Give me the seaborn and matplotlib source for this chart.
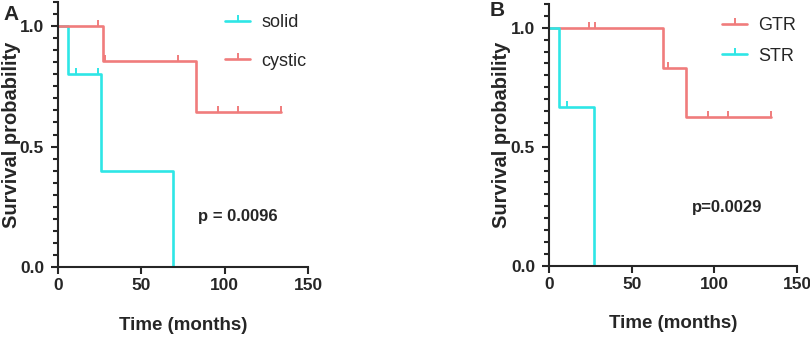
import numpy as np
import pandas as pd
import matplotlib
matplotlib.use("Agg")
import matplotlib.pyplot as plt
from matplotlib.lines import Line2D
from matplotlib.ticker import MultipleLocator
import seaborn as sns

# ---- data (Kaplan-Meier steps and censor marks) ----
# Panel A
solid_step_t = [0, 6, 26, 69]
solid_step_s = [1.0, 0.8, 0.4, 0.0]
solid_cens_t = [11, 24]
solid_cens_s = [0.8, 0.8]

cystic_step_t = [0, 27, 83, 134]
cystic_step_s = [1.0, 0.857, 0.643, 0.643]
cystic_cens_t = [24, 28, 72, 96, 108, 134]
cystic_cens_s = [1.0, 0.857, 0.857, 0.643, 0.643, 0.643]

# Panel B
gtr_step_t = [0, 69, 83, 134]
gtr_step_s = [1.0, 0.833, 0.625, 0.625]
gtr_cens_t = [24, 28, 72, 96, 108, 134]
gtr_cens_s = [1.0, 1.0, 0.833, 0.625, 0.625, 0.625]

str_step_t = [0, 6, 27]
str_step_s = [1.0, 0.667, 0.0]
str_cens_t = [11]
str_cens_s = [0.667]

x_ticks = [0, 50, 100, 150]
y_ticks = [0.0, 0.5, 1.0]

CYAN = "#2EE6E6"
SALMON = "#F07C7C"
TICK = [(0, 0), (0, 1)]  # censor mark drawn upward from the curve

sns.set_style("ticks")
plt.rcParams["font.family"] = ["Liberation Sans", "DejaVu Sans"]
plt.rcParams["axes.linewidth"] = 1.5


def draw_curve(ax, t, s, ct, cs, color):
    steps = pd.DataFrame({"t": t, "s": s})
    cens = pd.DataFrame({"t": ct, "s": cs})
    sns.lineplot(data=steps, x="t", y="s", ax=ax, color=color, lw=1.9,
                 drawstyle="steps-post", estimator=None, sort=False)
    sns.lineplot(data=cens, x="t", y="s", ax=ax, color=color, linestyle="",
                 marker=TICK, markersize=9, mew=1.4, mec=color,
                 estimator=None, sort=False)


def style_axes(ax, ylab_x):
    ax.set_xlim(0, 150)
    ax.set_ylim(0, 1.1)
    ax.set_xticks(x_ticks)
    ax.set_yticks(y_ticks)
    ax.set_yticklabels([f"{v:.1f}" for v in y_ticks])
    ax.yaxis.set_minor_locator(MultipleLocator(0.05))
    ax.tick_params(axis="both", which="major", length=5, width=1.5,
                   labelsize=12.5)
    ax.tick_params(axis="x", which="major", pad=3)
    ax.tick_params(axis="y", which="major", pad=5)
    ax.tick_params(axis="y", which="minor", length=3.5, width=1.5)
    for lab in ax.get_xticklabels() + ax.get_yticklabels():
        lab.set_fontweight("bold")
    sns.despine(ax=ax)
    ax.set_xlabel("Time (months)", fontsize=13.5, fontweight="bold")
    ax.xaxis.set_label_coords(0.5, -0.19)
    ax.set_ylabel("Survival probability", fontsize=14.5, fontweight="bold")
    ax.yaxis.set_label_coords(ylab_x, 0.5)


def legend(ax, labels, colors, x, y, spacing):
    handles = [Line2D([], [], color=c, lw=1.9, marker=TICK, markersize=9,
                      mew=1.4, mec=c)
               for c in colors]
    ax.legend(handles, labels, loc="upper left", bbox_to_anchor=(x, y),
              frameon=False, fontsize=13, handlelength=1.4, handletextpad=0.6,
              borderpad=0, borderaxespad=0, labelspacing=spacing, numpoints=1)


fig = plt.figure(figsize=(8.1, 3.39), dpi=100)
axA = fig.add_axes([58 / 810, 72 / 339, 250 / 810, 265 / 339])
axB = fig.add_axes([549 / 810, 73.3 / 339, 248 / 810, 261.7 / 339])

# Panel A
draw_curve(axA, solid_step_t, solid_step_s, solid_cens_t, solid_cens_s, CYAN)
draw_curve(axA, cystic_step_t, cystic_step_s, cystic_cens_t, cystic_cens_s, SALMON)
style_axes(axA, -0.148)
legend(axA, ["solid", "cystic"], [CYAN, SALMON], 0.668, 0.955, 1.2)
axA.text(108, 0.21, "p = 0.0096", ha="center", va="center", fontsize=12,
         fontweight="bold")

# Panel B
draw_curve(axB, gtr_step_t, gtr_step_s, gtr_cens_t, gtr_cens_s, SALMON)
draw_curve(axB, str_step_t, str_step_s, str_cens_t, str_cens_s, CYAN)
style_axes(axB, -0.155)
legend(axB, ["GTR", "STR"], [SALMON, CYAN], 0.698, 0.95, 0.75)
axB.text(108, 0.243, "p=0.0029", ha="center", va="center", fontsize=12,
         fontweight="bold")

fig.text(3 / 810, 1 - 14 / 339, "A", fontsize=15, fontweight="bold",
         va="center", ha="left")
fig.text(490 / 810, 1 - 11 / 339, "B", fontsize=15, fontweight="bold",
         va="center", ha="left")

fig.savefig("out.png", dpi=100)
